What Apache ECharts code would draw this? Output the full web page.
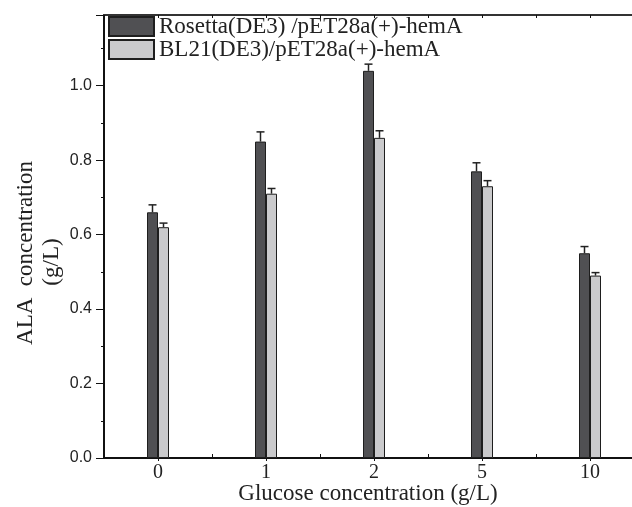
<!DOCTYPE html>
<html>
<head>
<meta charset="utf-8">
<script src="https://cdn.jsdelivr.net/npm/echarts@6/dist/echarts.min.js"></script>
<style>
html,body{margin:0;padding:0;background:#fff;overflow:hidden;}
#chart{width:660px;height:507px;}
</style>
</head>
<body>
<div id="chart"></div>
<script>
var categories = ['0', '1', '2', '5', '10'];
var seriesNames = ['Rosetta(DE3) /pET28a(+)-hemA', 'BL21(DE3)/pET28a(+)-hemA'];
var rosettaValues = [0.66, 0.85, 1.04, 0.77, 0.55];
var rosettaErrors = [0.020, 0.026, 0.018, 0.023, 0.018];
var bl21Values = [0.62, 0.71, 0.86, 0.73, 0.49];
var bl21Errors = [0.011, 0.014, 0.019, 0.015, 0.008];
var yTicks = [0.0, 0.2, 0.4, 0.6, 0.8, 1.0];

var BAR_W = 11;
var serif = '"Liberation Serif", "DejaVu Serif", serif';
var sans = '"Liberation Sans", Arial, sans-serif';

function errData(values, errs, offsetSign) {
  return values.map(function (v, i) { return [i, v, errs[i], offsetSign]; });
}

function renderErr(params, api) {
  var i = api.value(0), v = api.value(1), e = api.value(2), s = api.value(3);
  var base = api.coord([i, v]);
  var top = api.coord([i, v + e]);
  var x = base[0] + s * BAR_W / 2;
  var cap = 4;
  var style = { stroke: '#222', lineWidth: 1.5 };
  return {
    type: 'group',
    children: [
      { type: 'line', shape: { x1: x, y1: base[1], x2: x, y2: top[1] }, style: style },
      { type: 'line', shape: { x1: x - cap, y1: top[1], x2: x + cap, y2: top[1] }, style: style }
    ]
  };
}

function legendFor(name, top) {
  return {
    orient: 'vertical',
    left: 108, top: top,
    itemWidth: 45, itemHeight: 19, itemGap: 0,
    icon: 'rect',
    data: [name],
    textStyle: { fontFamily: serif, fontSize: 23, color: '#222' },
    padding: 0
  };
}

var chart = echarts.init(document.getElementById('chart'));

chart.setOption({
  animation: false,
  backgroundColor: '#fff',
  grid: { left: 104, right: 16, top: 15, bottom: 49, containLabel: false },
  legend: [legendFor(seriesNames[0], 15), legendFor(seriesNames[1], 38)],
  xAxis: [
    {
      type: 'category', data: categories, position: 'bottom',
      axisLine: { lineStyle: { color: '#111', width: 2 } },
      axisTick: { show: true, alignWithLabel: true, length: 3, inside: false, lineStyle: { color: '#111' } },
      axisLabel: { fontFamily: serif, fontSize: 20, color: '#222', margin: 5 },
      splitLine: { show: false }
    },
    {
      type: 'category', data: categories, position: 'bottom',
      axisLine: { show: false },
      axisTick: { show: true, inside: true, length: 4, lineStyle: { color: '#111' } },
      axisLabel: { show: false }, splitLine: { show: false }
    },
    {
      type: 'category', data: categories, position: 'top',
      axisLine: { lineStyle: { color: '#333', width: 2 } },
      axisTick: { show: true, inside: true, length: 3, lineStyle: { color: '#111' } },
      axisLabel: { show: false }, splitLine: { show: false }
    },
    {
      type: 'category', data: categories, position: 'top',
      axisLine: { show: false },
      axisTick: { show: true, alignWithLabel: true, inside: true, length: 3, lineStyle: { color: '#111' } },
      axisLabel: { show: false }, splitLine: { show: false }
    }
  ],
  yAxis: {
    type: 'value', min: 0, max: 1.19, interval: 0.2,
    axisLine: { show: true, lineStyle: { color: '#111', width: 2 } },
    axisTick: { show: true, inside: false, length: 8, lineStyle: { color: '#111' } },
    minorTick: { show: true, splitNumber: 2, length: 3, lineStyle: { color: '#111' } },
    axisLabel: {
      fontFamily: sans, fontSize: 16, color: '#222', margin: 12,
      showMaxLabel: false,
      formatter: function (v) {
        for (var k = 0; k < yTicks.length; k++) {
          if (Math.abs(v - yTicks[k]) < 1e-6) return yTicks[k].toFixed(1);
        }
        return '';
      }
    },
    splitLine: { show: false }
  },
  graphic: [
    {
      type: 'text', x: 26, y: 253, rotation: Math.PI / 2,
      style: { text: 'ALA  concentration', fontFamily: serif, fontSize: 23, fill: '#222', align: 'center', verticalAlign: 'middle' }
    },
    {
      type: 'text', x: 52, y: 262, rotation: Math.PI / 2,
      style: { text: '(g/L)', fontFamily: serif, fontSize: 23, fill: '#222', align: 'center', verticalAlign: 'middle' }
    },
    {
      type: 'text', x: 368, y: 494,
      style: { text: 'Glucose concentration (g/L)', fontFamily: serif, fontSize: 23, fill: '#222', align: 'center', verticalAlign: 'middle' }
    }
  ],
  series: [
    {
      name: seriesNames[0], type: 'bar', data: rosettaValues,
      barWidth: BAR_W, barGap: '0%',
      itemStyle: { color: '#505053', borderColor: '#1e1e1e', borderWidth: 1 }
    },
    {
      name: seriesNames[1], type: 'bar', data: bl21Values,
      barWidth: BAR_W, barGap: '0%',
      itemStyle: { color: '#cacacc', borderColor: '#1e1e1e', borderWidth: 1 }
    },
    {
      type: 'custom', renderItem: renderErr, data: errData(rosettaValues, rosettaErrors, -1),
      encode: { x: 0, y: 1 }, z: 3, silent: true
    },
    {
      type: 'custom', renderItem: renderErr, data: errData(bl21Values, bl21Errors, 1),
      encode: { x: 0, y: 1 }, z: 3, silent: true
    }
  ]
});
</script>
</body>
</html>
